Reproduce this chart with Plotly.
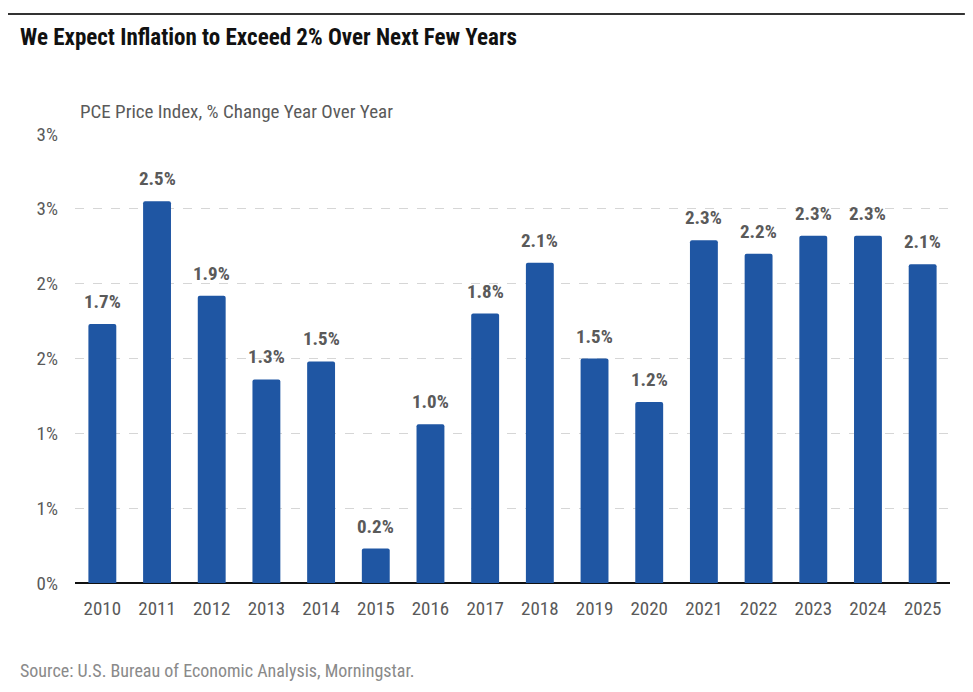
import plotly.graph_objects as go

years = ["2010", "2011", "2012", "2013", "2014", "2015", "2016", "2017",
         "2018", "2019", "2020", "2021", "2022", "2023", "2024", "2025"]
values = [1.73, 2.55, 1.92, 1.36, 1.48, 0.23, 1.06, 1.80,
          2.14, 1.50, 1.21, 2.29, 2.20, 2.32, 2.32, 2.13]
value_labels = ["1.7%", "2.5%", "1.9%", "1.3%", "1.5%", "0.2%", "1.0%", "1.8%",
                "2.1%", "1.5%", "1.2%", "2.3%", "2.2%", "2.3%", "2.3%", "2.1%"]
tick_vals = [0, 0.5, 1.0, 1.5, 2.0, 2.5, 3.0]
tick_text = ["0%", "1%", "1%", "2%", "2%", "3%", "3%"]

FONT = "Roboto Condensed, Liberation Sans Narrow, Roboto, sans-serif"

fig = go.Figure()
fig.add_trace(go.Bar(
    x=years, y=values,
    marker=dict(color="#1f56a3", line=dict(width=0)),
    cliponaxis=False,
))

# value labels placed at each category index (category axis positions)
label_annotations = [
    dict(x=i, y=v, xref="x", yref="y", text="<b>%s</b>" % lab,
         showarrow=False, xanchor="center", yanchor="bottom", yshift=9,
         font=dict(family=FONT, size=19, color="#5a5a5a"))
    for i, (v, lab) in enumerate(zip(values, value_labels))
]

fig.update_layout(
    width=957, height=676,
    paper_bgcolor="white", plot_bgcolor="white",
    margin=dict(l=67, r=15, t=126, b=101),
    bargap=0.49,
    barcornerradius=2,
    showlegend=False,
    font=dict(family=FONT, color="#5a5a5a"),
    xaxis=dict(
        type="category",
        tickfont=dict(family=FONT, size=19, color="#5a5a5a"),
        showgrid=False, ticks="", showline=False,
        ticklabelstandoff=12,
    ),
    yaxis=dict(
        range=[0, 3.0],
        tickvals=tick_vals, ticktext=tick_text,
        tickfont=dict(family=FONT, size=19, color="#5a5a5a"),
        showgrid=True, gridcolor="#d6d6d6", griddash="dash", gridwidth=1,
        zeroline=True, zerolinecolor="#111111", zerolinewidth=1.5,
        ticks="", ticklabelstandoff=16,
    ),
    shapes=[dict(type="line", xref="paper", yref="paper",
                 x0=-0.0766, x1=1.017, y0=1.267, y1=1.267,
                 line=dict(color="#333333", width=2))],
    annotations=label_annotations + [
        dict(text="<b>We Expect Inflation to Exceed 2% Over Next Few Years</b>",
             xref="paper", yref="paper", x=-0.065, y=1.216, xanchor="left", yanchor="middle",
             showarrow=False, font=dict(family=FONT, size=23, color="#111111")),
        dict(text="PCE Price Index, % Change Year Over Year",
             xref="paper", yref="paper", x=0.003, y=1.049, xanchor="left", yanchor="middle",
             showarrow=False, font=dict(family=FONT, size=19, color="#5a5a5a")),
        dict(text="Source: U.S. Bureau of Economic Analysis, Morningstar.",
             xref="paper", yref="paper", x=-0.065, y=-0.194, xanchor="left", yanchor="middle",
             showarrow=False, font=dict(family=FONT, size=18, color="#8a8a8a")),
    ],
)

fig.write_html("out.html")
